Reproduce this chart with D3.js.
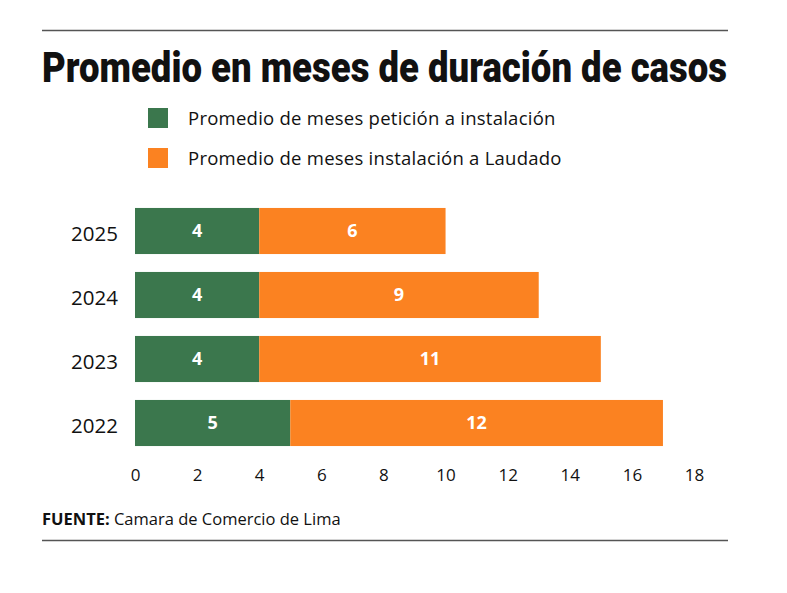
<!DOCTYPE html>
<html lang="es">
<head>
<meta charset="utf-8">
<title>Promedio en meses de duración de casos</title>
<script src="https://cdnjs.cloudflare.com/ajax/libs/d3/7.8.5/d3.min.js"></script>
<style>
  body { margin: 0; background: #fff; }
  svg { display: block; }
</style>
</head>
<body>
<script>
// datos
var years = ["2025", "2024", "2023", "2022"];
var peticionInstalacion = [4, 4, 4, 5];
var instalacionLaudado = [6, 9, 11, 12];
var seriesNames = ["Promedio de meses petición a instalación", "Promedio de meses instalación a Laudado"];
var xTicks = [0, 2, 4, 6, 8, 10, 12, 14, 16, 18];

var w = 787, h = 593;
var colors = ["#3b774d", "#fb8221"];

var svg = d3.select("body").append("svg")
    .attr("width", w)
    .attr("height", h);

// líneas de arriba y abajo
svg.append("line").attr("x1", 42).attr("x2", 728).attr("y1", 30.5).attr("y2", 30.5)
    .attr("stroke", "#555").attr("stroke-width", 1.5);
svg.append("line").attr("x1", 42).attr("x2", 728).attr("y1", 540.5).attr("y2", 540.5)
    .attr("stroke", "#555").attr("stroke-width", 1.5);

// titulo
svg.append("text")
    .attr("x", 42).attr("y", 82)
    .attr("font-family", "Roboto")
    .attr("font-weight", 900)
    .attr("font-size", 43)
    .attr("textLength", 685)
    .attr("lengthAdjust", "spacingAndGlyphs")
    .attr("fill", "#111")
    .text("Promedio en meses de duración de casos");

// leyenda
var legend = svg.selectAll("g.legend")
    .data(seriesNames)
    .enter().append("g")
    .attr("class", "legend")
    .attr("transform", function(d, i) { return "translate(148," + (108 + i * 40) + ")"; });
legend.append("rect")
    .attr("width", 20).attr("height", 20)
    .attr("fill", function(d, i) { return colors[i]; });
legend.append("text")
    .attr("x", 40).attr("y", 11)
    .attr("dy", "0.35em")
    .attr("font-family", "Open Sans")
    .attr("font-size", 18.5)
    .attr("letter-spacing", 0.25)
    .attr("fill", "#111")
    .text(function(d) { return d; });

// escalas
var x = d3.scaleLinear().domain([0, 18]).range([135, 694]);
var y = d3.scaleBand().domain(years).range([199, 455]).paddingInner(0.28).paddingOuter(0.14);

var stackData = years.map(function(yr, i) {
    return { year: yr, a: peticionInstalacion[i], b: instalacionLaudado[i] };
});
var stacked = d3.stack().keys(["a", "b"])(stackData);

var layers = svg.selectAll("g.layer")
    .data(stacked)
    .enter().append("g")
    .attr("class", "layer")
    .attr("fill", function(d, i) { return colors[i]; });

layers.selectAll("rect")
    .data(function(d) { return d; })
    .enter().append("rect")
    .attr("x", function(d) { return x(d[0]); })
    .attr("y", function(d) { return y(d.data.year); })
    .attr("width", function(d) { return x(d[1]) - x(d[0]); })
    .attr("height", y.bandwidth());

layers.selectAll("text")
    .data(function(d) { return d; })
    .enter().append("text")
    .attr("x", function(d) { return (x(d[0]) + x(d[1])) / 2; })
    .attr("y", function(d) { return y(d.data.year) + y.bandwidth() / 2; })
    .attr("dy", "0.35em")
    .attr("text-anchor", "middle")
    .attr("font-family", "Open Sans")
    .attr("font-weight", 700)
    .attr("font-size", 18)
    .attr("fill", "#fff")
    .text(function(d) { return d[1] - d[0]; });

// eje y (años)
var yAxis = svg.append("g")
    .attr("transform", "translate(118,3)")
    .call(d3.axisLeft(y).tickSize(0).tickPadding(0));
yAxis.select(".domain").remove();
yAxis.selectAll("text")
    .attr("font-family", "Open Sans")
    .attr("font-size", 20.5)
    .attr("fill", "#111");

// eje x
var xAxis = svg.append("g")
    .attr("transform", "translate(0,469)")
    .call(d3.axisBottom(x).tickValues(xTicks).tickSize(0).tickPadding(0));
xAxis.select(".domain").remove();
xAxis.selectAll("text")
    .attr("font-family", "Open Sans")
    .attr("font-size", 17)
    .attr("fill", "#111");

// fuente
var src = svg.append("text")
    .attr("x", 42).attr("y", 525)
    .attr("font-family", "Open Sans")
    .attr("font-size", 16.5)
    .attr("fill", "#111");
src.append("tspan").attr("font-weight", 700).text("FUENTE:");
src.append("tspan").text(" Camara de Comercio de Lima");
</script>
</body>
</html>
